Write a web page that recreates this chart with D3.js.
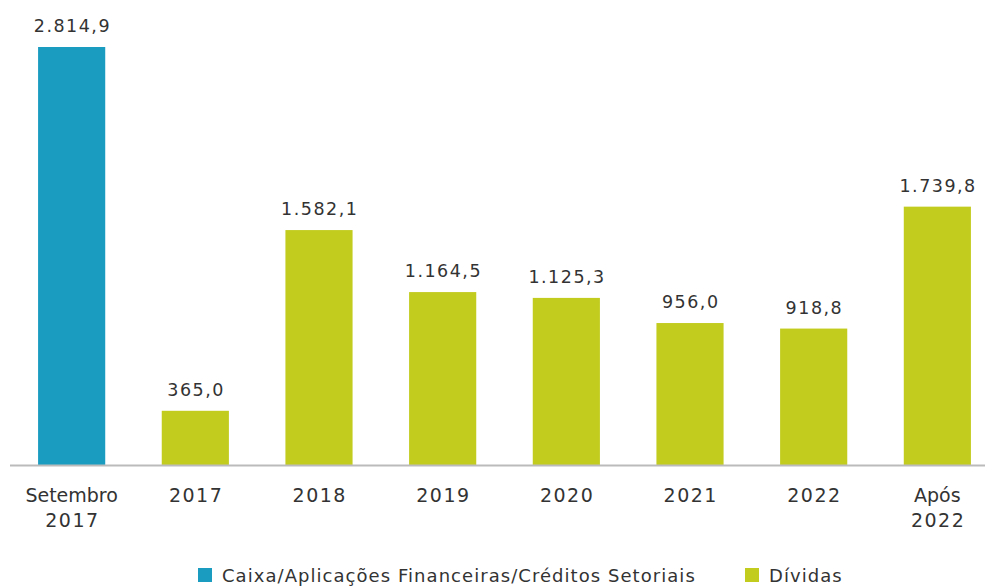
<!DOCTYPE html>
<html>
<head>
<meta charset="utf-8">
<script src="https://cdn.jsdelivr.net/npm/d3@7"></script>
<style>
  html, body { margin: 0; padding: 0; background: #fff; }
  svg { display: block; }
  text { font-family: "DejaVu Sans", sans-serif; fill: #333; }
</style>
</head>
<body>
<svg id="chart" width="985" height="587"></svg>
<script>
const categories = ["Setembro 2017", "2017", "2018", "2019", "2020", "2021", "2022", "Após 2022"];
const categoryLines = [["Setembro", "2017"], ["2017"], ["2018"], ["2019"], ["2020"], ["2021"], ["2022"], ["Após", "2022"]];
const values = [2814.9, 365.0, 1582.1, 1164.5, 1125.3, 956.0, 918.8, 1739.8];
const seriesOf = ["caixa", "dividas", "dividas", "dividas", "dividas", "dividas", "dividas", "dividas"];
const seriesNames = ["Caixa/Aplicações Financeiras/Créditos Setoriais", "Dívidas"];
const seriesKeys = ["caixa", "dividas"];
const colors = { caixa: "#1a9cc0", dividas: "#c2cc1f" };

const svg = d3.select("#chart");
const baseY = 465;

const x = d3.scaleBand().domain(categories).range([10, 999]).paddingInner(0.457).paddingOuter(0.227);
const y = d3.scaleLinear().domain([0, 2814.9]).range([baseY, 47]);
const cx = d => x(d) + x.bandwidth() / 2;

const fmt = v => {
  const s = v.toFixed(1).split(".");
  return s[0].replace(/\B(?=(\d{3})+(?!\d))/g, ".") + "," + s[1];
};

svg.selectAll("rect.bar").data(values).enter().append("rect")
  .attr("class", "bar")
  .attr("x", (d, i) => x(categories[i]))
  .attr("y", d => y(d))
  .attr("width", x.bandwidth())
  .attr("height", d => baseY - y(d))
  .attr("fill", (d, i) => colors[seriesOf[i]]);

svg.selectAll("text.val").data(values).enter().append("text")
  .attr("class", "val")
  .attr("x", (d, i) => cx(categories[i]) + 0.75)
  .attr("y", d => y(d) - 15)
  .attr("text-anchor", "middle")
  .style("font-size", "17.5px")
  .style("letter-spacing", "1.5px")
  .text(d => fmt(d));

// axis line
const xAxis = d3.axisBottom(x).tickSize(0).tickFormat("");
const ax = svg.append("g").attr("transform", `translate(0,${baseY + 0.5})`).call(xAxis);
ax.select(".domain").attr("stroke", "#bbb").attr("stroke-width", 2).attr("d", "M10,0H985");

const catG = svg.selectAll("text.cat").data(categories).enter().append("text")
  .attr("class", "cat")
  .attr("y", 502)
  .attr("text-anchor", "middle")
  .style("font-size", "19px");
catG.each(function (d, i) {
  const t = d3.select(this);
  categoryLines[i].forEach((line, j) => {
    const numeric = /^\d+$/.test(line);
    t.append("tspan")
      .attr("x", cx(d) + (numeric ? 0.75 : 0))
      .attr("dy", j === 0 ? 0 : 25)
      .style("letter-spacing", numeric ? "1.5px" : "0px")
      .text(line);
  });
});

// legend
const legendX = [198, 745];
const lg = svg.selectAll("g.leg").data(seriesKeys).enter().append("g")
  .attr("class", "leg")
  .attr("transform", (d, i) => `translate(${legendX[i]},568)`);
lg.append("rect").attr("width", 14).attr("height", 14).attr("fill", d => colors[d]);
lg.append("text").attr("x", 24).attr("y", 14)
  .style("font-size", "18px")
  .style("letter-spacing", "1.05px")
  .text((d, i) => seriesNames[i]);
</script>
</body>
</html>
